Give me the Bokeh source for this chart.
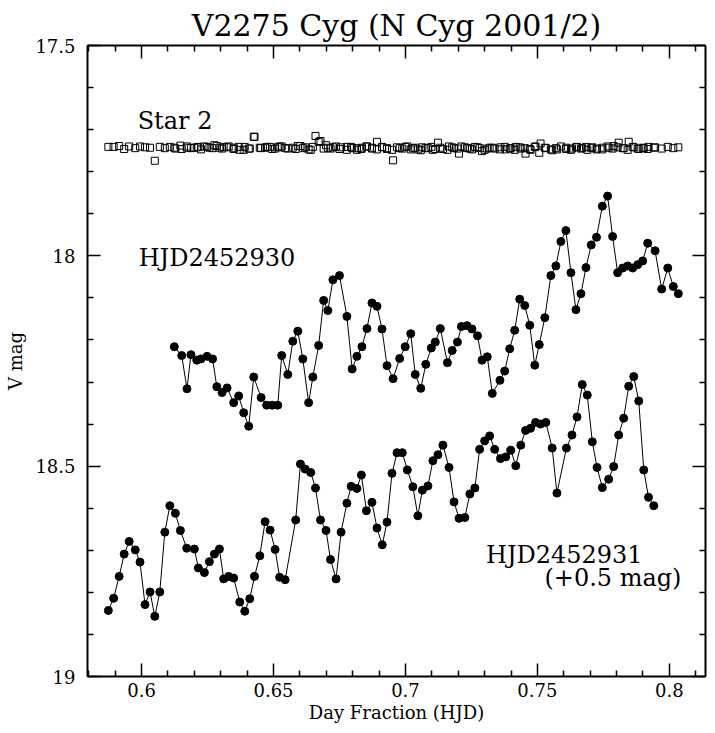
from bokeh.plotting import figure
from bokeh.models import Range1d, LinearAxis, FixedTicker, CustomJSTickFormatter, Label
from bokeh.embed import file_html
from bokeh.resources import INLINE
from bokeh.core.properties import value

FONT = "DejaVu Serif"
OFFSET = 0.5  # night 2 is shifted by +0.5 mag

# Night 1: HJD2452930 (day fraction, V mag)
t1 = [0.6124, 0.6152, 0.6172, 0.6187, 0.6209, 0.6225, 0.6248, 0.6269, 0.6285, 0.6305,
      0.6324, 0.6349, 0.6368, 0.6387, 0.6406, 0.6425, 0.6453, 0.6474, 0.6495, 0.6516,
      0.6531, 0.6554, 0.6573, 0.6592, 0.6611, 0.6633, 0.6649, 0.6671, 0.6690, 0.6706,
      0.6725, 0.6750, 0.6778, 0.6798, 0.6816, 0.6835, 0.6854, 0.6873, 0.6892, 0.6911,
      0.6930, 0.6953, 0.6978, 0.6999, 0.7020, 0.7037, 0.7058, 0.7077, 0.7098, 0.7113,
      0.7132, 0.7159, 0.7177, 0.7197, 0.7212, 0.7233, 0.7252, 0.7273, 0.7290, 0.7310,
      0.7329, 0.7358, 0.7376, 0.7395, 0.7414, 0.7433, 0.7452, 0.7471, 0.7490, 0.7507,
      0.7528, 0.7551, 0.7570, 0.7589, 0.7608, 0.7627, 0.7646, 0.7665, 0.7684, 0.7704,
      0.7724, 0.7746, 0.7766, 0.7785, 0.7804, 0.7823, 0.7842, 0.7861, 0.7880, 0.7899,
      0.7918, 0.7946, 0.7971, 0.7994, 0.8015, 0.8034]
v1 = [18.216, 18.237, 18.316, 18.235, 18.248, 18.245, 18.239, 18.245, 18.311, 18.325,
      18.314, 18.349, 18.333, 18.373, 18.405, 18.288, 18.337, 18.355, 18.355, 18.355,
      18.237, 18.282, 18.203, 18.179, 18.245, 18.349, 18.288, 18.213, 18.106, 18.130,
      18.057, 18.047, 18.144, 18.269, 18.239, 18.216, 18.173, 18.112, 18.120, 18.174,
      18.261, 18.292, 18.244, 18.216, 18.185, 18.282, 18.315, 18.258, 18.219, 18.205,
      18.173, 18.254, 18.225, 18.205, 18.168, 18.166, 18.174, 18.190, 18.248, 18.240,
      18.327, 18.296, 18.274, 18.221, 18.177, 18.103, 18.118, 18.165, 18.260, 18.211,
      18.147, 18.047, 18.024, 17.966, 17.940, 18.040, 18.128, 18.090, 18.028, 17.974,
      17.956, 17.882, 17.858, 17.954, 18.040, 18.029, 18.024, 18.029, 18.021, 18.012,
      17.970, 17.988, 18.079, 18.029, 18.073, 18.090]
# comparison star (Star 2) on night 1
s1 = [17.743, 17.746, 17.740, 17.744, 17.742, 17.747, 17.741, 17.744, 17.739, 17.745,
      17.742, 17.746, 17.741, 17.748, 17.745, 17.717, 17.744, 17.741, 17.746, 17.742,
      17.740, 17.745, 17.743, 17.739, 17.744, 17.747, 17.741, 17.729, 17.745, 17.743,
      17.742, 17.746, 17.741, 17.744, 17.748, 17.743, 17.740, 17.745, 17.729, 17.742,
      17.746, 17.773, 17.744, 17.741, 17.747, 17.743, 17.749, 17.744, 17.741, 17.746,
      17.743, 17.748, 17.742, 17.745, 17.740, 17.744, 17.747, 17.742, 17.751, 17.745,
      17.743, 17.747, 17.741, 17.745, 17.748, 17.742, 17.744, 17.746, 17.741, 17.755,
      17.743, 17.747, 17.744, 17.740, 17.746, 17.748, 17.742, 17.745, 17.741, 17.744,
      17.747, 17.743, 17.740, 17.745, 17.742, 17.744, 17.748, 17.741, 17.745, 17.743,
      17.746, 17.742, 17.745, 17.741, 17.744, 17.742]

# Night 2: HJD2452931 (day fraction, V mag, before the +0.5 shift)
t2 = [0.5874, 0.5894, 0.5915, 0.5934, 0.5953, 0.5976, 0.5994, 0.6013, 0.6032, 0.6050,
      0.6069, 0.6088, 0.6107, 0.6128, 0.6147, 0.6171, 0.6200, 0.6215, 0.6238, 0.6257,
      0.6276, 0.6295, 0.6311, 0.6330, 0.6349, 0.6372, 0.6391, 0.6410, 0.6428, 0.6448,
      0.6468, 0.6487, 0.6506, 0.6523, 0.6544, 0.6584, 0.6602, 0.6620, 0.6641, 0.6659,
      0.6678, 0.6699, 0.6716, 0.6737, 0.6756, 0.6778, 0.6794, 0.6816, 0.6833, 0.6852,
      0.6873, 0.6892, 0.6912, 0.6930, 0.6949, 0.6968, 0.6988, 0.7007, 0.7028, 0.7047,
      0.7064, 0.7085, 0.7104, 0.7123, 0.7142, 0.7165, 0.7184, 0.7203, 0.7225, 0.7244,
      0.7263, 0.7281, 0.7300, 0.7319, 0.7338, 0.7360, 0.7380, 0.7399, 0.7418, 0.7437,
      0.7455, 0.7474, 0.7493, 0.7512, 0.7532, 0.7556, 0.7574, 0.7610, 0.7631, 0.7650,
      0.7670, 0.7689, 0.7708, 0.7726, 0.7746, 0.7770, 0.7789, 0.7808, 0.7827, 0.7846,
      0.7865, 0.7884, 0.7903, 0.7921, 0.7941]
v2 = [18.343, 18.314, 18.262, 18.209, 18.179, 18.199, 18.228, 18.329, 18.299, 18.357,
      18.299, 18.157, 18.094, 18.112, 18.153, 18.195, 18.197, 18.242, 18.253, 18.227,
      18.209, 18.197, 18.268, 18.262, 18.266, 18.323, 18.345, 18.315, 18.262, 18.213,
      18.132, 18.152, 18.198, 18.264, 18.270, 18.128, 17.995, 18.007, 18.015, 18.052,
      18.128, 18.153, 18.222, 18.268, 18.157, 18.088, 18.048, 18.053, 18.021, 18.106,
      18.086, 18.147, 18.187, 18.133, 18.017, 17.968, 17.968, 18.009, 18.049, 18.118,
      18.057, 18.047, 17.987, 17.973, 17.950, 18.003, 18.085, 18.124, 18.122, 18.066,
      18.052, 17.960, 17.940, 17.928, 17.960, 17.982, 17.978, 17.962, 17.999, 17.950,
      17.915, 17.910, 17.896, 17.900, 17.896, 17.957, 18.064, 17.957, 17.926, 17.883,
      17.806, 17.831, 17.942, 18.003, 18.051, 18.031, 18.001, 17.926, 17.886, 17.810,
      17.787, 17.845, 18.009, 18.074, 18.094]
# comparison star (Star 2) on night 2
s2 = [17.741, 17.741, 17.739, 17.746, 17.740, 17.744, 17.740, 17.742, 17.743, 17.774,
      17.741, 17.744, 17.741, 17.745, 17.738, 17.743, 17.743, 17.741, 17.740, 17.743,
      17.737, 17.743, 17.741, 17.740, 17.743, 17.748, 17.741, 17.745, 17.717, 17.743,
      17.743, 17.741, 17.745, 17.740, 17.744, 17.746, 17.739, 17.742, 17.748, 17.715,
      17.727, 17.737, 17.745, 17.740, 17.742, 17.748, 17.741, 17.744, 17.746, 17.740,
      17.743, 17.747, 17.741, 17.744, 17.748, 17.742, 17.745, 17.740, 17.744, 17.747,
      17.742, 17.744, 17.748, 17.731, 17.746, 17.740, 17.744, 17.757, 17.742, 17.745,
      17.741, 17.744, 17.748, 17.743, 17.745, 17.742, 17.747, 17.744, 17.741, 17.745,
      17.757, 17.748, 17.740, 17.733, 17.744, 17.749, 17.747, 17.743, 17.745, 17.741,
      17.744, 17.748, 17.742, 17.745, 17.747, 17.743, 17.739, 17.731, 17.744, 17.729,
      17.742, 17.746, 17.744, 17.741, 17.743]

x_major = [0.6, 0.65, 0.7, 0.75, 0.8]
x_minor = [0.58, 0.59, 0.61, 0.62, 0.63, 0.64, 0.66, 0.67, 0.68, 0.69, 0.71, 0.72,
           0.73, 0.74, 0.76, 0.77, 0.78, 0.79, 0.81]
y_major = [17.5, 18.0, 18.5, 19.0]
y_minor = [17.6, 17.7, 17.8, 17.9, 18.1, 18.2, 18.3, 18.4, 18.6, 18.7, 18.8, 18.9]

v2_shifted = [v + OFFSET for v in v2]

p = figure(width=707, height=725, output_backend="svg", toolbar_location=None,
           x_range=Range1d(0.5795, 0.8137), y_range=Range1d(19.0, 17.5),
           min_border_left=87, min_border_right=2, min_border_top=45, min_border_bottom=47,
           title="V2275 Cyg (N Cyg 2001/2)")
p.background_fill_color = "white"
p.border_fill_color = "white"
p.outline_line_color = None
p.xgrid.visible = False
p.ygrid.visible = False

p.title.text_font = FONT
p.title.text_font_size = "30px"
p.title.text_font_style = "normal"
p.title.text_color = "black"
p.title.align = "center"
p.title.standoff = 5

fmt = CustomJSTickFormatter(code="return tick.toString();")
blank = CustomJSTickFormatter(code="return '';")
xt = FixedTicker(ticks=x_major, minor_ticks=x_minor)
yt = FixedTicker(ticks=y_major, minor_ticks=y_minor)

def style_axis(ax, show_labels):
    ax.axis_line_width = 2
    ax.axis_line_color = "black"
    ax.major_tick_in = 13
    ax.major_tick_out = 0
    ax.minor_tick_in = 6
    ax.minor_tick_out = 0
    ax.major_tick_line_width = 1.5
    ax.minor_tick_line_width = 1.5
    ax.major_tick_line_color = "black"
    ax.minor_tick_line_color = "black"
    if show_labels:
        ax.formatter = fmt
        ax.major_label_text_font = FONT
        ax.major_label_text_font_size = "18px"
        ax.major_label_text_color = "black"
        ax.axis_label_text_font = FONT
        ax.axis_label_text_font_size = "18px"
        ax.axis_label_text_font_style = "normal"
        ax.axis_label_text_color = "black"
    else:
        ax.formatter = blank
        ax.major_label_standoff = 0

p.xaxis.ticker = xt
p.yaxis.ticker = yt
style_axis(p.xaxis[0], True)
style_axis(p.yaxis[0], True)
p.xaxis.axis_label = "Day Fraction (HJD)"
p.yaxis.axis_label = "V mag"
p.xaxis.major_label_standoff = 6
p.yaxis.major_label_standoff = 12
p.xaxis.axis_label_standoff = 2
p.yaxis.axis_label_standoff = 6

top = LinearAxis(ticker=xt)
style_axis(top, False)
p.add_layout(top, "above")
right = LinearAxis(ticker=yt)
style_axis(right, False)
p.add_layout(right, "right")

# comparison star
p.scatter(t1, s1, marker="square", size=7, fill_alpha=0, line_color="black", line_width=1)
p.scatter(t2, s2, marker="square", size=7, fill_alpha=0, line_color="black", line_width=1)

# light curves
p.line(t1, v1, line_color="black", line_width=1)
p.scatter(t1, v1, marker="circle", size=8, fill_color="black", line_color="black")
p.line(t2, v2_shifted, line_color="black", line_width=1)
p.scatter(t2, v2_shifted, marker="circle", size=8, fill_color="black", line_color="black")

def add_label(x, y, txt, align="left"):
    p.add_layout(Label(x=x, y=y, text=txt, text_font=FONT, text_font_size="24px",
                       text_color="black", text_align=align, text_baseline="alphabetic"))

add_label(0.5985, 17.680, "Star 2")
add_label(0.5989, 18.005, "HJD2452930")
add_label(0.7305, 18.711, "HJD2452931")
add_label(0.8046, 18.766, "(+0.5 mag)", align="right")

open("out.html", "w").write(file_html(p, INLINE))
